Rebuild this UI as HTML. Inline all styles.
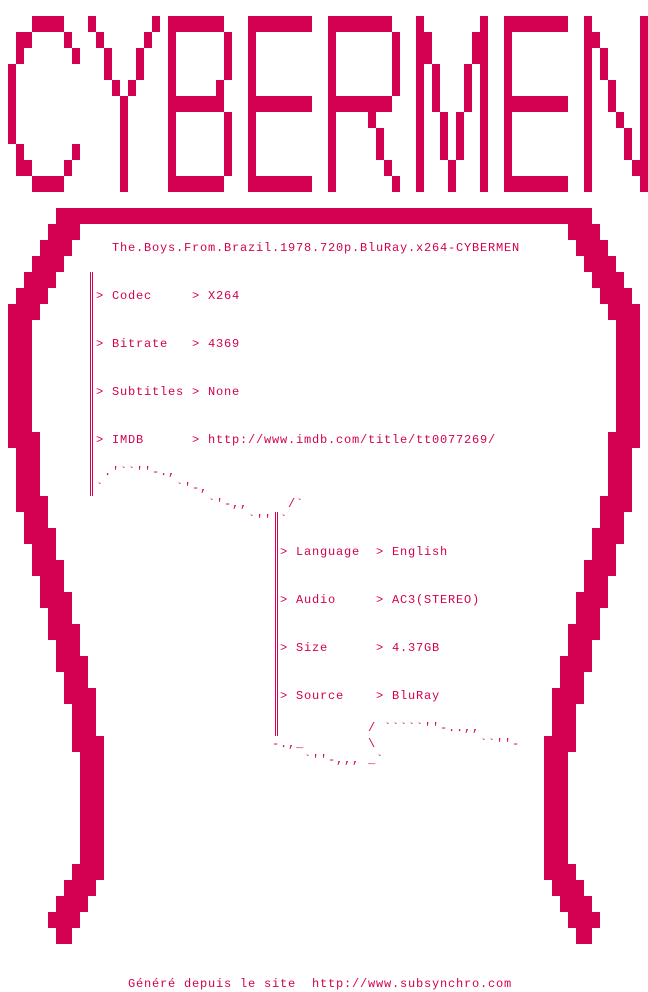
<!DOCTYPE html>
<html><head><meta charset="utf-8"><style>
html,body{margin:0;padding:0;background:#fff;width:648px;height:992px;overflow:hidden}
#c{position:relative;width:648px;height:992px}
svg{position:absolute;left:0;top:0}
.t{position:absolute;white-space:pre;font-family:"Liberation Mono",monospace;font-size:12px;line-height:16px;letter-spacing:0.8px;color:#d40050}
</style></head><body><div id="c">
<svg width="648" height="992" viewBox="0 0 648 992" fill="#d40050" shape-rendering="crispEdges">
<rect x="32" y="16" width="32" height="16"/><rect x="16" y="32" width="16" height="16"/><rect x="64" y="32" width="8" height="16"/>
<rect x="16" y="48" width="8" height="16"/><rect x="72" y="48" width="8" height="16"/><rect x="8" y="64" width="8" height="80"/>
<rect x="16" y="144" width="8" height="16"/><rect x="72" y="144" width="8" height="16"/><rect x="16" y="160" width="16" height="16"/>
<rect x="64" y="160" width="8" height="16"/><rect x="32" y="176" width="32" height="16"/>
<rect x="88" y="16" width="8" height="16"/><rect x="152" y="16" width="8" height="16"/><rect x="96" y="32" width="8" height="16"/>
<rect x="144" y="32" width="8" height="16"/><rect x="104" y="48" width="8" height="32"/><rect x="136" y="48" width="8" height="32"/>
<rect x="112" y="80" width="8" height="16"/><rect x="128" y="80" width="8" height="16"/><rect x="120" y="96" width="8" height="96"/>
<rect x="168" y="16" width="56" height="16"/><rect x="168" y="16" width="8" height="176"/><rect x="224" y="32" width="8" height="48"/>
<rect x="216" y="80" width="8" height="16"/><rect x="168" y="96" width="56" height="16"/><rect x="224" y="112" width="8" height="64"/>
<rect x="168" y="176" width="56" height="16"/>
<rect x="248" y="16" width="64" height="16"/><rect x="248" y="16" width="8" height="176"/><rect x="248" y="96" width="64" height="16"/><rect x="248" y="176" width="64" height="16"/>
<rect x="328" y="16" width="64" height="16"/><rect x="328" y="16" width="8" height="176"/><rect x="392" y="32" width="8" height="64"/>
<rect x="328" y="96" width="64" height="16"/><rect x="368" y="112" width="8" height="16"/><rect x="376" y="128" width="8" height="32"/>
<rect x="384" y="160" width="8" height="16"/><rect x="392" y="176" width="8" height="16"/>
<rect x="416" y="16" width="8" height="176"/><rect x="480" y="16" width="8" height="176"/><rect x="424" y="32" width="8" height="32"/>
<rect x="472" y="32" width="8" height="32"/><rect x="432" y="64" width="8" height="48"/><rect x="464" y="64" width="8" height="48"/>
<rect x="440" y="112" width="8" height="48"/><rect x="456" y="112" width="8" height="48"/><rect x="448" y="160" width="8" height="32"/>
<rect x="504" y="16" width="64" height="16"/><rect x="504" y="16" width="8" height="176"/><rect x="504" y="96" width="64" height="16"/><rect x="504" y="176" width="64" height="16"/>
<rect x="584" y="16" width="8" height="176"/><rect x="640" y="16" width="8" height="176"/><rect x="592" y="32" width="8" height="16"/>
<rect x="600" y="48" width="8" height="32"/><rect x="608" y="80" width="8" height="32"/><rect x="616" y="112" width="8" height="16"/>
<rect x="624" y="128" width="8" height="32"/><rect x="632" y="160" width="8" height="16"/>
<rect x="56" y="208" width="536" height="16"/>
<g id="L">
<rect x="48" y="224" width="32" height="16"/><rect x="40" y="240" width="32" height="16"/><rect x="32" y="256" width="32" height="16"/>
<rect x="24" y="272" width="32" height="16"/><rect x="16" y="288" width="32" height="16"/><rect x="8" y="304" width="32" height="16"/>
<rect x="8" y="320" width="24" height="112"/><rect x="8" y="432" width="32" height="16"/><rect x="16" y="448" width="24" height="48"/>
<rect x="16" y="496" width="32" height="16"/><rect x="24" y="512" width="24" height="16"/><rect x="24" y="528" width="32" height="16"/>
<rect x="32" y="544" width="24" height="16"/><rect x="32" y="560" width="32" height="16"/><rect x="40" y="576" width="24" height="16"/>
<rect x="40" y="592" width="32" height="16"/><rect x="48" y="608" width="24" height="16"/><rect x="48" y="624" width="32" height="16"/>
<rect x="56" y="640" width="24" height="16"/><rect x="56" y="656" width="32" height="16"/><rect x="64" y="672" width="24" height="16"/>
<rect x="64" y="688" width="32" height="16"/><rect x="72" y="704" width="24" height="32"/><rect x="72" y="736" width="32" height="16"/>
<rect x="80" y="752" width="24" height="112"/><rect x="72" y="864" width="32" height="16"/><rect x="64" y="880" width="32" height="16"/>
<rect x="56" y="896" width="32" height="16"/><rect x="48" y="912" width="32" height="16"/><rect x="56" y="928" width="16" height="16"/>
</g>
<use href="#L" transform="translate(648,0) scale(-1,1)"/>
<rect x="90" y="272" width="1" height="224"/><rect x="92" y="272" width="1" height="224"/>
<rect x="275" y="512" width="1" height="224"/><rect x="277" y="512" width="1" height="224"/>
</svg>
<div class="t" style="left:112px;top:240px">The.Boys.From.Brazil.1978.720p.BluRay.x264-CYBERMEN</div>
<div class="t" style="left:96px;top:288px">&gt; Codec     &gt; X264</div>
<div class="t" style="left:96px;top:336px">&gt; Bitrate   &gt; 4369</div>
<div class="t" style="left:96px;top:384px">&gt; Subtitles &gt; None</div>
<div class="t" style="left:96px;top:432px">&gt; IMDB      &gt; http://www.imdb.com/title/tt0077269/</div>
<div class="t" style="left:104px;top:464px">.'&#96;&#96;''-.,</div>
<div class="t" style="left:96px;top:480px">&#96;         &#96;'-,</div>
<div class="t" style="left:208px;top:496px">&#96;'-,,     /&#96;</div>
<div class="t" style="left:248px;top:512px">&#96;''</div>
<div class="t" style="left:280px;top:512px">&#96;</div>
<div class="t" style="left:280px;top:544px">&gt; Language  &gt; English</div>
<div class="t" style="left:280px;top:592px">&gt; Audio     &gt; AC3(STEREO)</div>
<div class="t" style="left:280px;top:640px">&gt; Size      &gt; 4.37GB</div>
<div class="t" style="left:280px;top:688px">&gt; Source    &gt; BluRay</div>
<div class="t" style="left:368px;top:720px">/ &#96;&#96;&#96;&#96;&#96;''-..,,</div>
<div class="t" style="left:272px;top:736px">-.,_        &#92;             &#96;&#96;''-</div>
<div class="t" style="left:304px;top:752px">&#96;''-,,, _&#96;</div>
<div class="t" style="left:128px;top:976px">Généré depuis le site  http://www.subsynchro.com</div>
</div></body></html>
